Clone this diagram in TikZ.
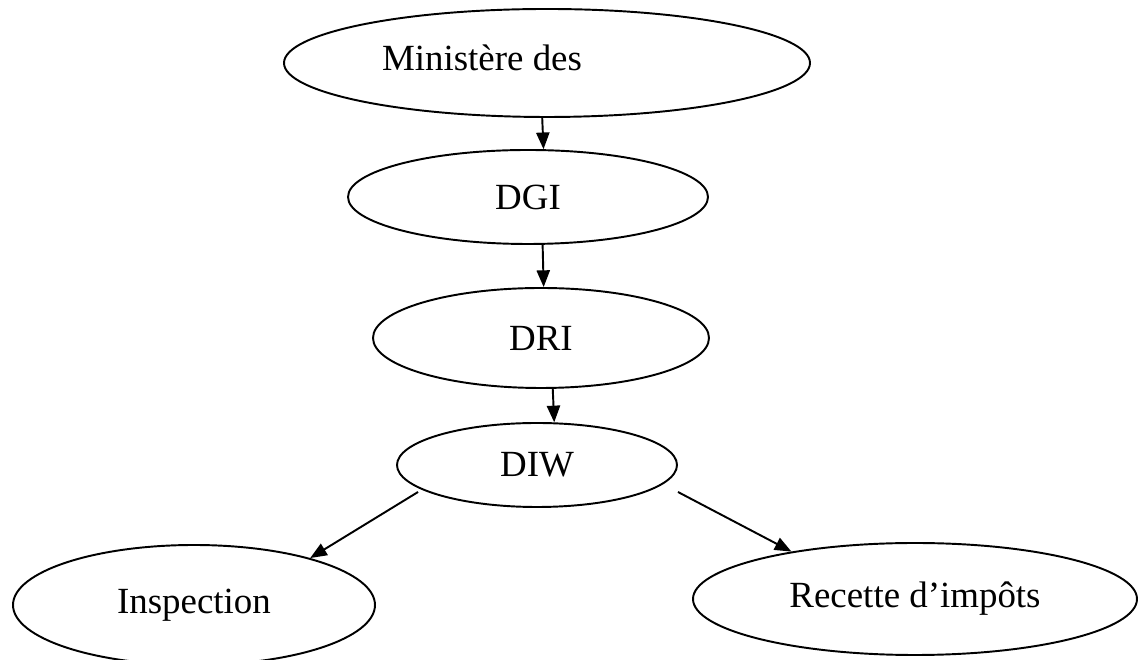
\documentclass[tikz,border=0pt]{standalone}
\usepackage{fontspec}
\setmainfont{Liberation Serif}
\usetikzlibrary{shapes.geometric,arrows.meta}
\tikzset{
	bulle/.style={draw, ellipse, line width=1.1pt, inner sep=0pt, font=\fontsize{21}{25}\selectfont},
	fleche/.style={-{Triangle[length=9.5pt,width=7.5pt]}, line width=1.1pt}
}
\begin{document}
\begin{tikzpicture}
		\useasboundingbox (0,0) rectangle (22.84,13.2);

		\node[bulle, minimum width=10.52cm, minimum height=2.16cm,
			label={[xshift=-1.3cm, yshift=0.1cm, font=\fontsize{21}{25}\selectfont]center:Ministère des}] (min) at (10.94,11.94) {};
		\node[bulle, minimum width=7.2cm, minimum height=1.88cm] (dgi) at (10.56,9.26) {DGI};
		\node[bulle, minimum width=6.72cm, minimum height=2.0cm] (dri) at (10.82,6.44) {DRI};
		\node[bulle, minimum width=5.6cm, minimum height=1.68cm] (diw) at (10.74,3.9) {DIW};
		\node[bulle, minimum width=7.24cm, minimum height=2.4cm] (insp) at (3.88,1.1) {Inspection};
		\node[bulle, minimum width=8.88cm, minimum height=2.24cm] (rec) at (18.3,1.22) {Recette d’impôts};

		\draw[fleche] (min.265.8) -- (dgi.72.3);
		\draw[fleche] (dgi.287.7) -- (dri.87.7);
		\draw[fleche] (dri.283.5) -- (diw.68);
		\draw[fleche] ([shift={(0.44,-0.54)}]diw.west) -- (insp.22);
		\draw[fleche] ([yshift=-0.54cm]diw.east) -- (rec.159);
	\end{tikzpicture}
\end{document}
